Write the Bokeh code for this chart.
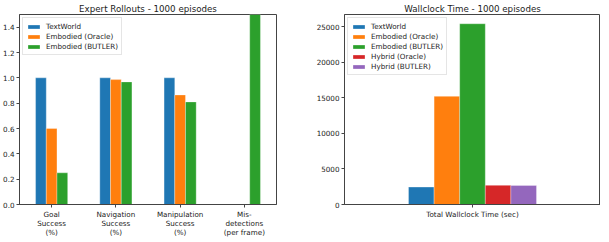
from bokeh.plotting import figure
from bokeh.layouts import row
from bokeh.models import ColumnDataSource, FixedTicker, PrintfTickFormatter, Range1d, Legend, LegendItem
from bokeh.transform import dodge
from bokeh.embed import file_html
from bokeh.resources import INLINE

# ---- data: Expert Rollouts ----
categories = ["Goal\nSuccess\n(%)", "Navigation\nSuccess\n(%)",
              "Manipulation\nSuccess\n(%)", "Mis-\ndetections\n(per frame)"]
textworld = [1.0, 1.0, 1.0, 0.0]
embodied_oracle = [0.60, 0.986, 0.865, 0.0]
embodied_butler = [0.25, 0.968, 0.81, 1.9]
rollout_series = ["TextWorld", "Embodied (Oracle)", "Embodied (BUTLER)"]

# ---- data: Wallclock Time ----
wall_category = ["Total Wallclock Time (sec)"]
wall_series = ["TextWorld", "Embodied (Oracle)", "Embodied (BUTLER)", "Hybrid (Oracle)", "Hybrid (BUTLER)"]
wall_values = [2450, 15200, 25400, 2690, 2680]

colors = ["#1f77b4", "#ff7f0e", "#2ca02c", "#d62728", "#9467bd"]

FONT = "DejaVu Sans"
TICK = "7.2px"
TITLE = "8.7px"


def style(p):
    p.toolbar_location = None
    p.xgrid.visible = False
    p.ygrid.visible = False
    p.outline_line_color = "#444444"
    p.outline_line_width = 1
    p.background_fill_color = "white"
    p.border_fill_color = "white"
    for ax in (p.xaxis[0], p.yaxis[0]):
        ax.axis_line_color = "#444444"
        ax.major_tick_line_color = "#444444"
        ax.major_tick_out = 3
        ax.major_tick_in = 0
        ax.minor_tick_line_color = None
        ax.major_label_text_font = FONT
        ax.major_label_text_font_size = TICK
        ax.major_label_text_color = "#222222"
        ax.major_label_text_line_height = 1.0
        ax.major_label_standoff = 2
    p.title.text_font = FONT
    p.title.text_font_size = TITLE
    p.title.text_font_style = "normal"
    p.title.text_color = "#222222"
    p.title.align = "center"
    p.title.standoff = 2


def style_legend(leg):
    leg.location = "top_left"
    leg.label_text_font = FONT
    leg.label_text_font_size = TICK
    leg.label_text_color = "#222222"
    leg.glyph_width = 15
    leg.glyph_height = 5
    leg.label_height = 10
    leg.spacing = 0
    leg.padding = 3
    leg.margin = 3
    leg.label_standoff = 5
    leg.border_line_color = "#cccccc"
    leg.border_line_width = 1
    leg.background_fill_alpha = 0.85


# ---------------- left chart ----------------
p1 = figure(frame_width=257, frame_height=190, output_backend="svg", toolbar_location=None,
            title="Expert Rollouts - 1000 episodes",
            x_range=Range1d(-0.5, 3.5), y_range=Range1d(0, 1.5),
            min_border_left=13, min_border_right=20, min_border_top=0, min_border_bottom=0)
style(p1)
src1 = ColumnDataSource(dict(x=list(range(len(categories))), tw=textworld,
                             eo=embodied_oracle, eb=embodied_butler))
w1 = 0.5 / 3
items1 = []
for i, (col, name) in enumerate(zip(["tw", "eo", "eb"], rollout_series)):
    r = p1.vbar(x=dodge("x", (i - 1) * w1), top=col, width=w1, source=src1,
                fill_color=colors[i], line_color="white", line_alpha=0.3, line_width=1)
    items1.append(LegendItem(label=name, renderers=[r]))
p1.xaxis.ticker = FixedTicker(ticks=list(range(len(categories))))
p1.xaxis.major_label_overrides = {i: c for i, c in enumerate(categories)}
p1.yaxis.ticker = FixedTicker(ticks=[0.0, 0.2, 0.4, 0.6, 0.8, 1.0, 1.2, 1.4])
p1.yaxis.formatter = PrintfTickFormatter(format="%.1f")
leg1 = Legend(items=items1)
style_legend(leg1)
p1.add_layout(leg1, "center")

# ---------------- right chart ----------------
p2 = figure(frame_width=256, frame_height=190, output_backend="svg", toolbar_location=None,
            title="Wallclock Time - 1000 episodes",
            x_range=Range1d(-0.5, 0.5), y_range=Range1d(0, 26700),
            min_border_left=48, min_border_right=0, min_border_top=0, min_border_bottom=0)
style(p2)
w2 = 0.5 / len(wall_series)
items2 = []
for i, name in enumerate(wall_series):
    s = ColumnDataSource(dict(x=[0], top=[wall_values[i]]))
    r = p2.vbar(x=dodge("x", (i - 2) * w2), top="top", width=w2, source=s,
                fill_color=colors[i], line_color="white", line_alpha=0.3, line_width=1)
    items2.append(LegendItem(label=name, renderers=[r]))
p2.xaxis.ticker = FixedTicker(ticks=[0])
p2.xaxis.major_label_overrides = {0: wall_category[0]}
p2.yaxis.ticker = FixedTicker(ticks=[0, 5000, 10000, 15000, 20000, 25000])
p2.yaxis.formatter = PrintfTickFormatter(format="%d")
leg2 = Legend(items=items2)
style_legend(leg2)
p2.add_layout(leg2, "center")

layout = row(p1, p2)
open("out.html", "w").write(file_html(layout, INLINE))
